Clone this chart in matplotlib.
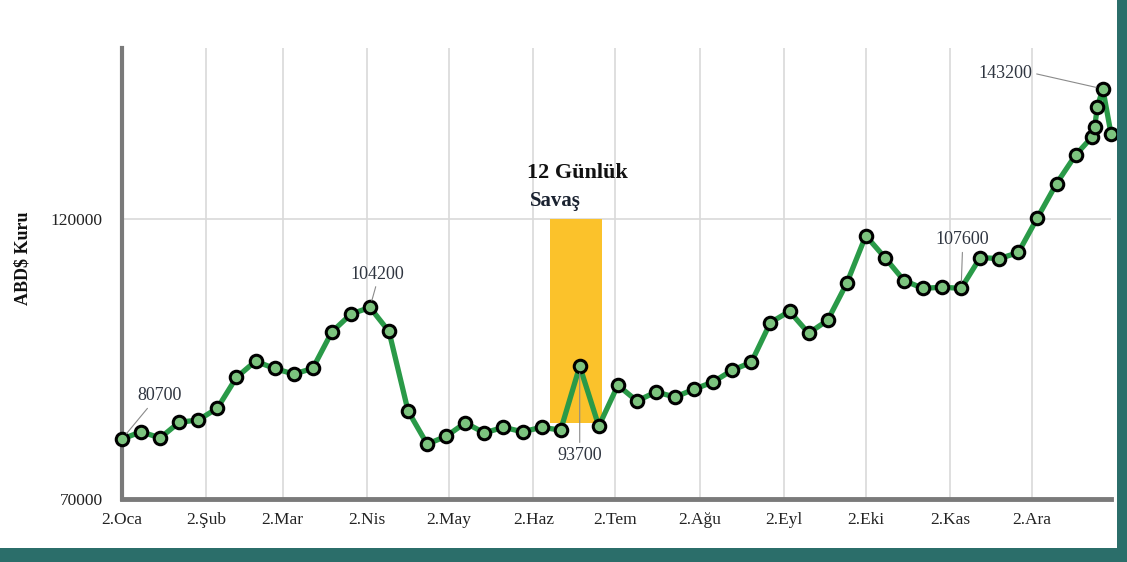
import matplotlib
matplotlib.use("Agg")
import matplotlib.pyplot as plt
import matplotlib.patches as patches
import matplotlib.dates as mdates
import numpy as np

# weekly readings (2025) plus the last days of December
dates = ['2025-01-02', '2025-01-09', '2025-01-16', '2025-01-23', '2025-01-30',
         '2025-02-06', '2025-02-13', '2025-02-20', '2025-02-27',
         '2025-03-06', '2025-03-13', '2025-03-20', '2025-03-27',
         '2025-04-03', '2025-04-10', '2025-04-17', '2025-04-24',
         '2025-05-01', '2025-05-08', '2025-05-15', '2025-05-22', '2025-05-29',
         '2025-06-05', '2025-06-12', '2025-06-19', '2025-06-26',
         '2025-07-03', '2025-07-10', '2025-07-17', '2025-07-24', '2025-07-31',
         '2025-08-07', '2025-08-14', '2025-08-21', '2025-08-28',
         '2025-09-04', '2025-09-11', '2025-09-18', '2025-09-25',
         '2025-10-02', '2025-10-09', '2025-10-16', '2025-10-23', '2025-10-30',
         '2025-11-06', '2025-11-13', '2025-11-20', '2025-11-27',
         '2025-12-04', '2025-12-11', '2025-12-18',
         '2025-12-24', '2025-12-25', '2025-12-26', '2025-12-28', '2025-12-31']

kur = [80700, 82000, 80900, 83700, 84100,
       86200, 91700, 94600, 93300,
       92300, 93300, 99800, 103000,
       104200, 99900, 85700, 79800,
       81200, 83600, 81800, 82800, 82000,
       82800, 82300, 93700, 83000,
       90300, 87500, 89100, 88200, 89600,
       90900, 93000, 94400, 101500,
       103500, 99600, 101900, 108500,
       117000, 113100, 109000, 107600, 107800,
       107600, 113100, 112900, 114000,
       120200, 126300, 131400,
       134600, 136400, 140000, 143200, 135200]

month_ticks = ['2025-01-02', '2025-02-02', '2025-03-02', '2025-04-02', '2025-05-02', '2025-06-02',
               '2025-07-02', '2025-08-02', '2025-09-02', '2025-10-02', '2025-11-02', '2025-12-02']
month_labels = ['2.Oca', '2.Şub', '2.Mar', '2.Nis', '2.May', '2.Haz',
                '2.Tem', '2.Ağu', '2.Eyl', '2.Eki', '2.Kas', '2.Ara']

war_start = '2025-06-08'
war_end = '2025-06-27'
war_low = 83500
war_high = 120000

# labelled points: (date, value, text offset in points, leader start on text)
labels = [('2025-01-02', 80700, (27, 31), (0.3, 0.0)),
          ('2025-04-03', 104200, (5, 24), (0.5, 0.0)),
          ('2025-06-19', 93700, (0, -64), (0.5, 1.0)),
          ('2025-11-06', 107600, (1, 35), (0.5, 0.0)),
          ('2025-12-28', 143200, (-70, 11), (1.05, 0.5))]

x = np.array(dates, dtype='datetime64[D]')
y = np.array(kur)

plt.rcParams['font.family'] = ['Liberation Serif', 'DejaVu Serif']

fig = plt.figure(figsize=(11.27, 5.62), dpi=100)
ax = fig.add_axes([122 / 1127, 1 - 499 / 562, 989 / 1127, 451 / 562])

# yellow box for the war period
x0 = mdates.date2num(np.datetime64(war_start))
x1 = mdates.date2num(np.datetime64(war_end))
ax.add_patch(patches.Rectangle((x0, war_low), x1 - x0, war_high - war_low,
                               facecolor='#fbc22b', edgecolor='none', zorder=1))

ax.plot(x, y, color='#2a9a48', lw=3.8, zorder=3, clip_on=False,
        marker='o', markersize=9, markerfacecolor='#7cc37e',
        markeredgecolor='black', markeredgewidth=2.2)

for d, v, off, rp in labels:
    ax.annotate(str(v), xy=(np.datetime64(d), v), xytext=off, textcoords='offset points',
                ha='center', va='center', fontsize=13, color='#2f3540',
                arrowprops=dict(arrowstyle='-', color='#8a8a8a', lw=0.8,
                                relpos=rp, shrinkA=1, shrinkB=5), zorder=4)

ax.text(0.4095, 0.723, '12 Günlük', transform=ax.transAxes, fontsize=16,
        fontweight='bold', ha='left', va='center', color='#111111')
ax.text(0.4125, 0.661, 'Savaş', transform=ax.transAxes, fontsize=15,
        fontweight='bold', ha='left', va='center', color='#1a2230')

ax.set_xlim(mdates.date2num(np.datetime64('2025-01-02')),
            mdates.date2num(np.datetime64('2025-12-31')))
ax.set_ylim(70000, 150500)

ax.set_xticks(np.array(month_ticks, dtype='datetime64[D]'))
ax.set_xticklabels(month_labels)
ax.set_yticks([70000, 120000])
ax.set_yticklabels(['70000', '120000'])
ax.tick_params(axis='both', length=0, labelsize=12.5, colors='#222222')
ax.tick_params(axis='x', pad=9)
ax.tick_params(axis='y', pad=14)

ax.grid(True, color='#d9d9d9', lw=1.2)
ax.set_axisbelow(True)

for s in ['top', 'right']:
    ax.spines[s].set_visible(False)
ax.spines['left'].set_color('#7a7a7a')
ax.spines['left'].set_linewidth(3)
ax.spines['bottom'].set_color('#7a7a7a')
ax.spines['bottom'].set_linewidth(3.5)

ax.set_ylabel('ABD$ Kuru', fontsize=13, fontweight='bold', color='#111111')
ax.yaxis.set_label_coords(-0.092, 0.534)

# teal frame on the right and bottom
fig.patches.append(patches.Rectangle((1117 / 1127, 0), 10 / 1127, 1, transform=fig.transFigure,
                                     facecolor='#2b6e6a', edgecolor='none'))
fig.patches.append(patches.Rectangle((0, 0), 1, 14 / 562, transform=fig.transFigure,
                                     facecolor='#2b6e6a', edgecolor='none'))

fig.savefig('out.png', dpi=100)
